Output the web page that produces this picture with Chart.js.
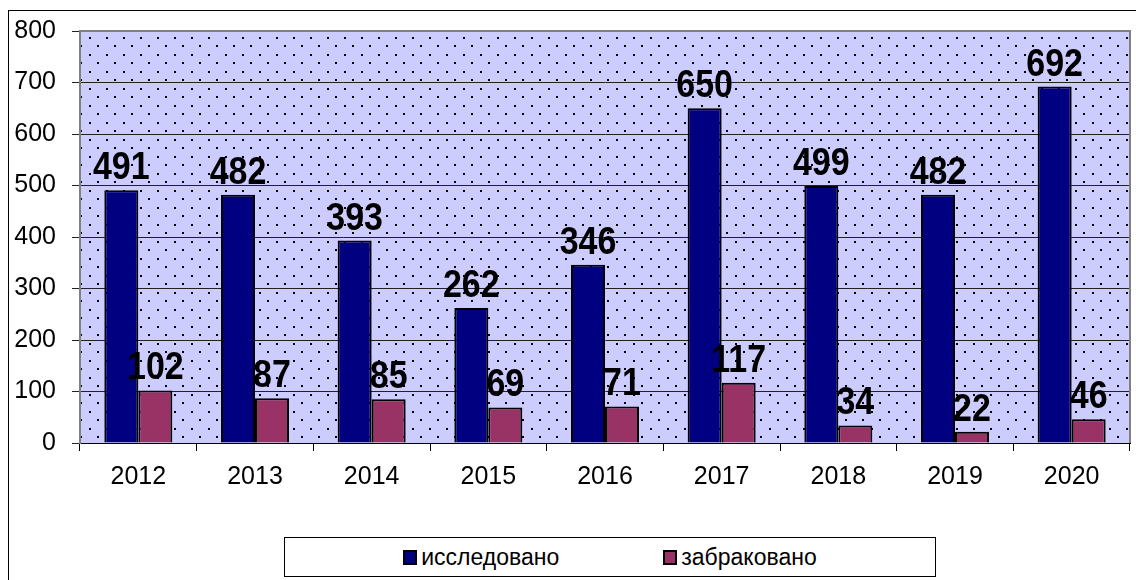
<!DOCTYPE html>
<html>
<head>
<meta charset="utf-8">
<script src="https://cdn.jsdelivr.net/npm/chart.js@4"></script>
<style>
  body { margin: 0; background: #fff; overflow: hidden; }
  #wrap { position: relative; width: 1136px; height: 580px; }
  #frame { position: absolute; left: 8px; top: 10px; width: 1200px; height: 700px;
           border-left: 1px solid #000; border-top: 1px solid #000; }
  #myChart { position: absolute; left: 0; top: 0; }
  #legend { position: absolute; left: 284px; top: 537px; width: 650px; height: 38px;
            border: 1px solid #000; background: #fff; display: flex; justify-content: center;
            align-items: center; font-family: "Liberation Sans", Arial, sans-serif; font-size: 23px;
            color: #000; box-sizing: content-box; }
  #legend .item { display: flex; align-items: center; margin: 0 52px; }
  #legend .sw { width: 10px; height: 11px; border: 2px solid #000; margin-right: 4px; }
</style>
</head>
<body>
<div id="wrap">
  <div id="frame"></div>
  <canvas id="myChart" width="1136" height="580"></canvas>
  <div id="legend"></div>
</div>
<script>
var years = ['2012', '2013', '2014', '2015', '2016', '2017', '2018', '2019', '2020'];
var researched = [491, 482, 393, 262, 346, 650, 499, 482, 692];
var rejected = [102, 87, 85, 69, 71, 117, 34, 22, 46];
var yTicks = [0, 100, 200, 300, 400, 500, 600, 700, 800];

// dotted lavender fill like the excel plot area
var tile = document.createElement('canvas');
tile.width = 17;
tile.height = 17;
var tctx = tile.getContext('2d');
tctx.fillStyle = '#ccccff';
tctx.fillRect(0, 0, 17, 17);
tctx.fillStyle = '#000';
tctx.fillRect(4, 3, 2, 2);
tctx.fillRect(12, 11, 2, 2);

var ctx = document.getElementById('myChart').getContext('2d');
var dotted = ctx.createPattern(tile, 'repeat');

var plotBack = {
    id: 'plotBack',
    beforeDraw: function(chart) {
        var a = chart.chartArea;
        var c = chart.ctx;
        c.save();
        c.fillStyle = dotted;
        c.fillRect(a.left, a.top, a.right - a.left, a.bottom - a.top);
        c.restore();
    },
    afterDatasetsDraw: function(chart) {
        var a = chart.chartArea;
        var c = chart.ctx;
        c.save();
        c.strokeStyle = '#808080';
        c.lineWidth = 2;
        c.beginPath();
        c.moveTo(a.left, a.top);
        c.lineTo(a.right, a.top);
        c.lineTo(a.right, a.bottom);
        c.stroke();
        c.restore();
    }
};

var valueLabels = {
    id: 'valueLabels',
    afterDatasetsDraw: function(chart) {
        var c = chart.ctx;
        c.save();
        c.font = 'bold 34px "Liberation Sans", Arial, sans-serif';
        c.fillStyle = '#000';
        c.textAlign = 'center';
        c.textBaseline = 'alphabetic';
        chart.data.datasets.forEach(function(ds, i) {
            chart.getDatasetMeta(i).data.forEach(function(bar, j) {
                c.save();
                c.translate(bar.x, bar.y - 11);
                c.scale(1, 1.13);
                c.fillText(ds.data[j], 0, 0);
                c.restore();
            });
        });
        c.restore();
    }
};

var chart = new Chart(ctx, {
    type: 'bar',
    data: {
        labels: years,
        datasets: [{
            label: 'исследовано',
            backgroundColor: '#000080',
            borderColor: '#000',
            borderWidth: 2,
            data: researched
        }, {
            label: 'забраковано',
            backgroundColor: '#993366',
            borderColor: '#000',
            borderWidth: 2,
            data: rejected
        }]
    },
    options: {
        responsive: false,
        animation: false,
        layout: { padding: { top: 25, right: 6, left: 0, bottom: 44 } },
        datasets: {
            bar: { categoryPercentage: 0.583, barPercentage: 1.0 }
        },
        scales: {
            x: {
                grid: { drawOnChartArea: false, drawTicks: true, tickLength: 8, color: '#000', offset: true },
                border: { color: '#000', width: 1 },
                ticks: {
                    color: '#000',
                    padding: 11,
                    font: { family: '"Liberation Sans", Arial, sans-serif', size: 25 }
                },
                afterFit: function(scale) { scale.height = 93; }
            },
            y: {
                min: 0,
                max: 800,
                afterBuildTicks: function(scale) {
                    scale.ticks = yTicks.map(function(v) { return { value: v }; });
                },
                grid: { color: '#222', lineWidth: 1, tickLength: 8, drawTicks: true },
                border: { color: '#808080', width: 2 },
                ticks: {
                    color: '#000',
                    padding: 16,
                    font: { family: '"Liberation Sans", Arial, sans-serif', size: 25 }
                },
                afterFit: function(scale) { scale.width = 80; }
            }
        },
        plugins: {
            legend: { display: false },
            tooltip: { enabled: false }
        }
    },
    plugins: [plotBack, valueLabels]
});

// legend box built from the datasets
var legendEl = document.getElementById('legend');
chart.data.datasets.forEach(function(ds) {
    var item = document.createElement('span');
    item.className = 'item';
    var sw = document.createElement('span');
    sw.className = 'sw';
    sw.style.background = ds.backgroundColor;
    item.appendChild(sw);
    item.appendChild(document.createTextNode(ds.label));
    legendEl.appendChild(item);
});
</script>
</body>
</html>
